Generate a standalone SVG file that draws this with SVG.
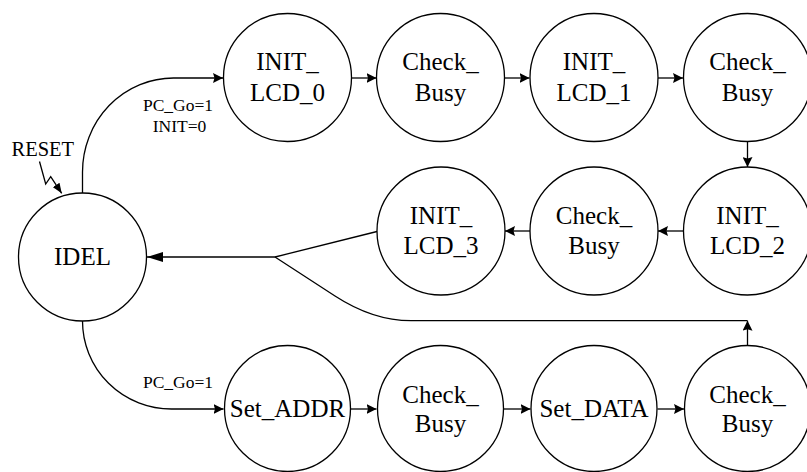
<svg xmlns="http://www.w3.org/2000/svg" width="807" height="472" viewBox="0 0 807 472">
  <style>
    .state circle { fill: #ffffff; stroke: #000000; stroke-width: 1.3; }
    .state text { font-family: "Liberation Serif", "Times New Roman", serif; font-size: 25px; fill: #000000; text-anchor: middle; }
    .wire { fill: none; stroke: #000000; stroke-width: 1.3; }
    .label { font-family: "Liberation Serif", "Times New Roman", serif; font-size: 17.5px; fill: #000000; text-anchor: middle; }
    .reset { font-family: "Liberation Serif", "Times New Roman", serif; font-size: 20.5px; fill: #000000; }
  </style>
  <defs>
    <marker id="arrow" viewBox="0 0 10 10" refX="10" refY="5" markerWidth="10" markerHeight="10" markerUnits="userSpaceOnUse" orient="auto">
      <path d="M0,0 L10,5 L0,10 L1.5,5 z" fill="#000000"/>
    </marker>
    <marker id="arrowLong" viewBox="0 0 16 10" refX="16" refY="5" markerWidth="16" markerHeight="10" markerUnits="userSpaceOnUse" orient="auto">
      <path d="M0,0 L16,5 L0,10 z" fill="#000000"/>
    </marker>
    <marker id="arrowSmall" viewBox="0 0 10 8" refX="10" refY="4" markerWidth="10" markerHeight="8" markerUnits="userSpaceOnUse" orient="auto">
      <path d="M0,0 L10,4 L0,8 z" fill="#000000"/>
    </marker>
  </defs>

  <!-- transitions -->
  <g id="connectors">
    <!-- reset strike -->
    <path class="wire" d="M39.5,161.5 L45.7,184 L50.7,176.7 L61.7,193.3" marker-end="url(#arrowSmall)"/>
    <!-- IDEL to init sequence -->
    <path class="wire" d="M82.5,193 L82.5,172 A91,94 0 0 1 173.5,78 L223,78" marker-end="url(#arrow)"/>
    <!-- IDEL to write sequence -->
    <path class="wire" d="M82.5,321 A89,88 0 0 0 171.5,409 L223.5,409" marker-end="url(#arrow)"/>
    <!-- top row -->
    <path class="wire" d="M351.5,78 L376.5,78" marker-end="url(#arrow)"/>
    <path class="wire" d="M504.5,78 L529.5,78" marker-end="url(#arrow)"/>
    <path class="wire" d="M658,78 L683,78" marker-end="url(#arrow)"/>
    <!-- down to INIT_LCD_2 -->
    <path class="wire" d="M747.5,141.5 L747.5,167" marker-end="url(#arrow)"/>
    <!-- middle row -->
    <path class="wire" d="M683,231 L658,231" marker-end="url(#arrow)"/>
    <path class="wire" d="M530,231 L505,231" marker-end="url(#arrow)"/>
    <!-- return paths into IDEL -->
    <path class="wire" d="M377,231.5 L275,257"/>
    <path class="wire" d="M275,257 L147,257" marker-end="url(#arrowLong)"/>
    <path class="wire" d="M747.5,320.7 L411,320.7 Q373,320.7 335,296 L275,257"/>
    <!-- bottom row -->
    <path class="wire" d="M351,409 L376.5,409" marker-end="url(#arrow)"/>
    <path class="wire" d="M504,409 L530.5,409" marker-end="url(#arrow)"/>
    <path class="wire" d="M657.5,409 L684,409" marker-end="url(#arrow)"/>
    <path class="wire" d="M747.5,345.5 L747.5,320.7" marker-end="url(#arrow)"/>
  </g>

  <!-- transition labels -->
  <text class="reset" x="11.5" y="156">RESET</text>
  <text class="label" x="178" y="111">PC_Go=1</text>
  <text class="label" x="179.5" y="131.5">INIT=0</text>
  <text class="label" x="178" y="388">PC_Go=1</text>

  <!-- states -->
  <g id="idel" class="state">
    <circle cx="82.5" cy="257" r="64"/>
    <text x="82.5" y="265">IDEL</text>
  </g>

  <g id="init_lcd_0" class="state">
    <circle cx="287.5" cy="77.5" r="64"/>
    <text x="287.5" y="70">INIT_</text>
    <text x="287.5" y="100.5">LCD_0</text>
  </g>
  <g id="check_busy_1" class="state">
    <circle cx="440.5" cy="77.5" r="64"/>
    <text x="440.5" y="70">Check_</text>
    <text x="440.5" y="100.5">Busy</text>
  </g>
  <g id="init_lcd_1" class="state">
    <circle cx="594" cy="77.5" r="64"/>
    <text x="594" y="70">INIT_</text>
    <text x="594" y="100.5">LCD_1</text>
  </g>
  <g id="check_busy_2" class="state">
    <circle cx="747.5" cy="77.5" r="64"/>
    <text x="747.5" y="70">Check_</text>
    <text x="747.5" y="100.5">Busy</text>
  </g>

  <g id="init_lcd_2" class="state">
    <circle cx="747.5" cy="231" r="64"/>
    <text x="747.5" y="223.5">INIT_</text>
    <text x="747.5" y="254">LCD_2</text>
  </g>
  <g id="check_busy_3" class="state">
    <circle cx="594" cy="231" r="64"/>
    <text x="594" y="223.5">Check_</text>
    <text x="594" y="254">Busy</text>
  </g>
  <g id="init_lcd_3" class="state">
    <circle cx="441" cy="231" r="64"/>
    <text x="441" y="223.5">INIT_</text>
    <text x="441" y="254">LCD_3</text>
  </g>

  <g id="set_addr" class="state">
    <circle cx="287.5" cy="408.5" r="63"/>
    <text x="287.5" y="417">Set_ADDR</text>
  </g>
  <g id="check_busy_4" class="state">
    <circle cx="440.5" cy="408.5" r="63"/>
    <text x="440.5" y="402.5">Check_</text>
    <text x="440.5" y="431.5">Busy</text>
  </g>
  <g id="set_data" class="state">
    <circle cx="594" cy="408.5" r="63"/>
    <text x="594" y="417">Set_DATA</text>
  </g>
  <g id="check_busy_5" class="state">
    <circle cx="747.5" cy="408.5" r="63"/>
    <text x="747.5" y="402.5">Check_</text>
    <text x="747.5" y="431.5">Busy</text>
  </g>
</svg>
